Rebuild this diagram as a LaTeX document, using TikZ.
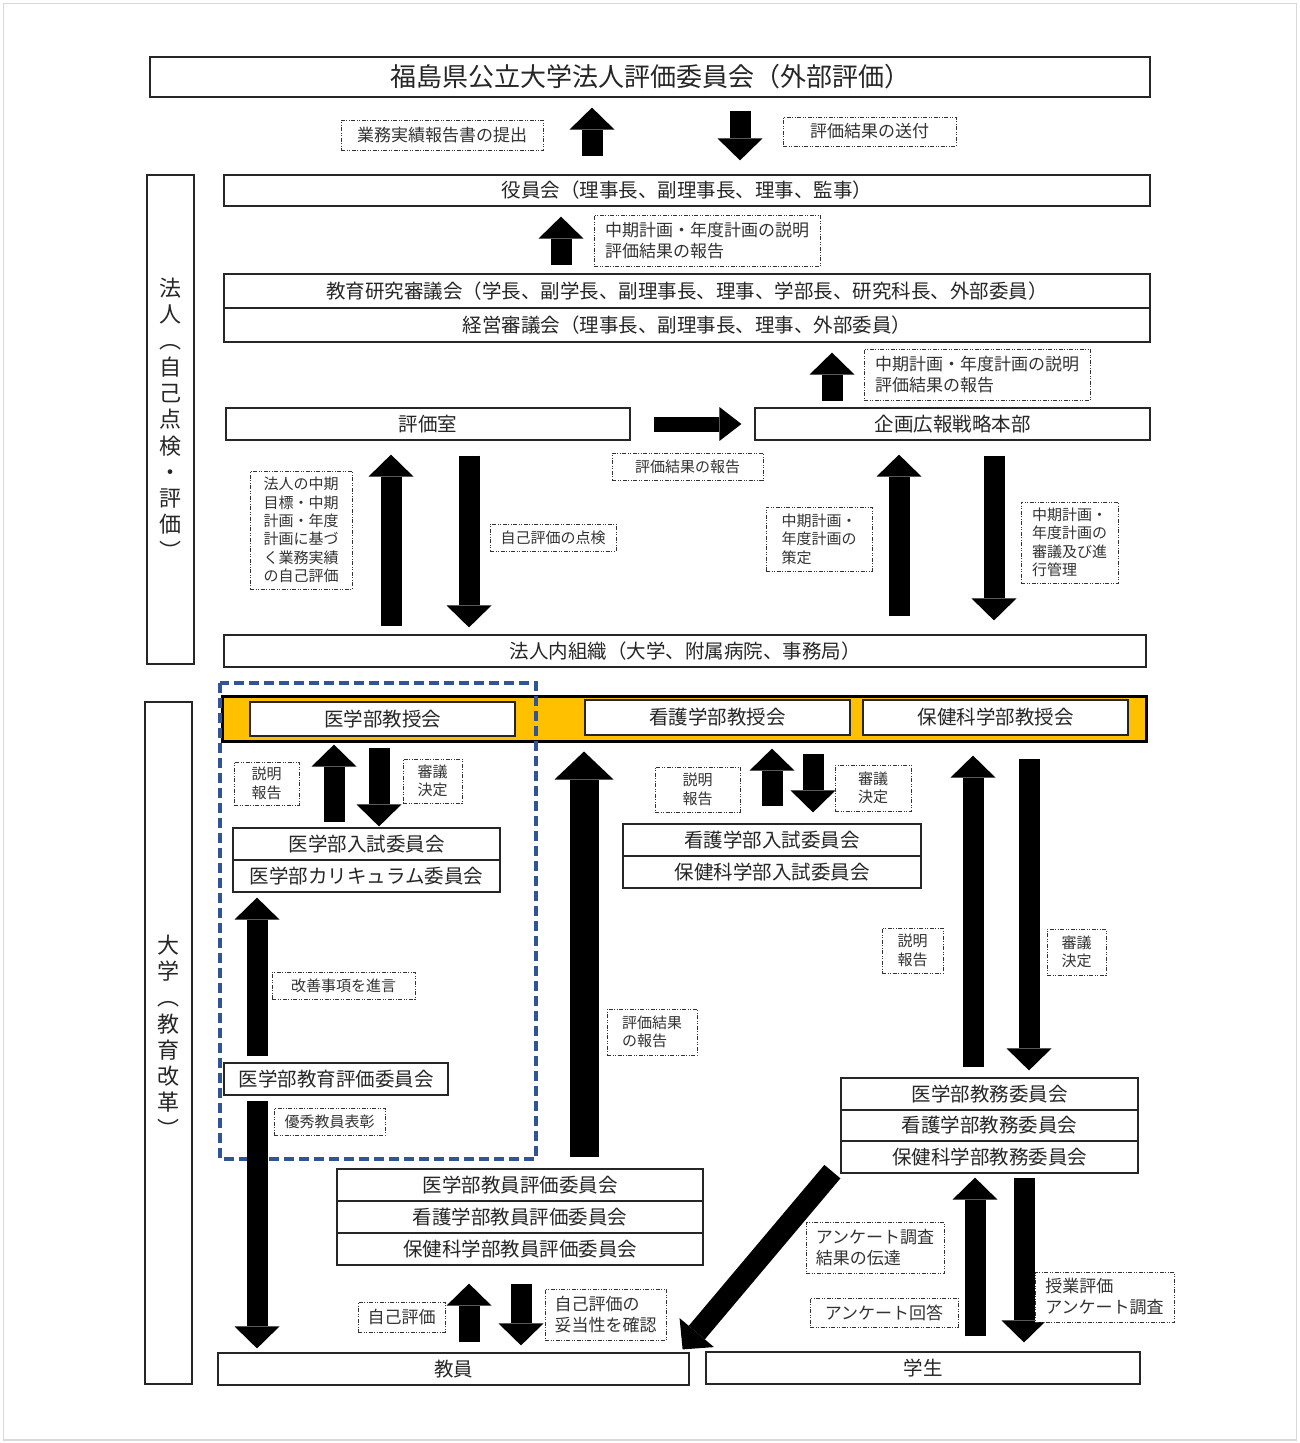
\documentclass[tikz,border=0pt]{standalone}
\usepackage{fontspec}
\setmainfont{Noto Sans CJK JP}
\usepackage{tikz}
\usepackage{xcolor}
\usetikzlibrary{arrows.meta}
\definecolor{bandyellow}{HTML}{FFC000}
\definecolor{waku}{HTML}{2F5597}
\tikzset{>=latex,
  box/.style={draw=black!85, line width=1.2pt, fill=white, inner sep=0pt, text=black!85, font=\fontsize{19.5}{22}\selectfont},
  tate/.style={inner sep=0pt, align=center, text=black!85, font=\fontsize{22}{26.3}\selectfont},
  lbl/.style={draw=black!80, line width=1pt, dash pattern=on 4pt off 1.5pt on 1pt off 1.5pt on 1pt off 1.5pt, fill=white, inner sep=0pt, align=left, text=black!80, font=\fontsize{15}{18.4}\selectfont},
  lblbig/.style={lbl, font=\fontsize{17}{21}\selectfont},
  blk/.style={line width=21pt, -{Triangle[width=45pt,length=22pt,line width=0pt]}},
  blkbig/.style={line width=29pt, -{Triangle[width=59pt,length=28pt,line width=0pt]}}}

\begin{document}
\begin{tikzpicture}[x=1pt,y=-1pt]
    \useasboundingbox (0,0) rectangle (1299,1443);
    \draw[black!15, line width=1.5pt] (3.5,3.5) rectangle (1296.5,1440);

    \node[box, minimum width=1000pt, minimum height=40pt, font=\fontsize{26}{28}\selectfont] (hyokaiin) at (650,77) {福島県公立大学法人評価委員会（外部評価）};
    \node[box, minimum width=926pt, minimum height=31pt] (yakuin) at (687,190.5) {役員会（理事長、副理事長、理事、監事）};
    \node[box, minimum width=926pt, minimum height=34pt] (kyoken) at (687,291) {教育研究審議会（学長、副学長、副理事長、理事、学部長、研究科長、外部委員）};
    \node[box, minimum width=926pt, minimum height=34pt] (keiei) at (687,325) {経営審議会（理事長、副理事長、理事、外部委員）};
    \node[box, minimum width=404pt, minimum height=32pt] (hyokashitsu) at (428,424) {評価室};
    \node[box, minimum width=395pt, minimum height=32pt] (kikaku) at (952.5,424) {企画広報戦略本部};
    \node[box, minimum width=922pt, minimum height=32pt] (naibu) at (685,651) {法人内組織（大学、附属病院、事務局）};

    \node[box, minimum width=47pt, minimum height=489pt] (hojinwaku) at (170.5,419.5) {};
    \node[tate] (hojin) at (170.5,418.5) {法\\人\\︵\\自\\己\\点\\検\\・\\評\\価\\︶};
    \node[box, minimum width=47pt, minimum height=682pt] (daigakuwaku) at (168.5,1043) {};
    \node[tate] (daigaku) at (168.5,1036) {大\\学\\︵\\教\\育\\改\\革\\︶};

    \node[draw=black, line width=3pt, fill=bandyellow, minimum width=924pt, minimum height=45pt] (band) at (684,718.5) {};
    \node[box, minimum width=265pt, minimum height=34pt] (ikyoju) at (382.5,719) {医学部教授会};
    \node[box, minimum width=265pt, minimum height=35pt] (kkyoju) at (717.5,717.5) {看護学部教授会};
    \node[box, minimum width=265pt, minimum height=35pt] (hkyoju) at (995.5,717.5) {保健科学部教授会};
    \draw[waku, line width=4pt, dash pattern=on 10pt off 5pt] (220,683) rectangle (536,1159);

    \node[box, minimum width=267pt, minimum height=32pt] (inyushi) at (366.5,844) {医学部入試委員会};
    \node[box, minimum width=267pt, minimum height=32pt] (icurri) at (366.5,876) {医学部カリキュラム委員会};
    \node[box, minimum width=298pt, minimum height=32pt] (knyushi) at (772,840) {看護学部入試委員会};
    \node[box, minimum width=298pt, minimum height=32pt] (hnyushi) at (772,872) {保健科学部入試委員会};
    \node[box, minimum width=224pt, minimum height=32pt] (ihyoka) at (336,1079) {医学部教育評価委員会};
    \node[box, minimum width=297pt, minimum height=32pt] (kyomua) at (989.5,1094) {医学部教務委員会};
    \node[box, minimum width=297pt, minimum height=31pt] (kyomub) at (989.5,1125.5) {看護学部教務委員会};
    \node[box, minimum width=297pt, minimum height=32pt] (kyomuc) at (989.5,1157) {保健科学部教務委員会};
    \node[box, minimum width=366pt, minimum height=32pt] (kyoinhyoa) at (520,1185) {医学部教員評価委員会};
    \node[box, minimum width=366pt, minimum height=32pt] (kyoinhyob) at (520,1217) {看護学部教員評価委員会};
    \node[box, minimum width=366pt, minimum height=32pt] (kyoinhyoc) at (520,1249) {保健科学部教員評価委員会};
    \node[box, minimum width=471pt, minimum height=32pt] (kyoin) at (453.5,1369) {教員};
    \node[box, minimum width=434pt, minimum height=32pt] (gakusei) at (923,1368) {学生};

    \draw[blk, shorten <=18pt, shorten >=10pt] (yakuin.north -| 592,0) -- (hyokaiin.south -| 592,0);
    \draw[blk, shorten <=13pt, shorten >=14pt] (hyokaiin.south -| 740,0) -- (yakuin.north -| 740,0);
    \draw[blk, shorten <=8pt, shorten >=10pt] (kyoken.north -| 561,0) -- (yakuin.south -| 561,0);
    \draw[blk, shorten <=6pt, shorten >=10pt] (kikaku.north -| 832,0) -- (keiei.south -| 832,0);
    \draw[line width=15pt, -{Triangle[width=34pt,length=22pt,line width=0pt]}, shorten <=23pt, shorten >=13pt] (hyokashitsu.east) -- (kikaku.west);
    \draw[blk, shorten <=8pt, shorten >=14pt] (naibu.north -| 391,0) -- (hyokashitsu.south -| 391,0);
    \draw[blk, shorten <=15pt, shorten >=7pt] (hyokashitsu.south -| 469,0) -- (naibu.north -| 469,0);
    \draw[blk, shorten <=18pt, shorten >=14pt] (naibu.north -| 899,0) -- (kikaku.south -| 899,0);
    \draw[blk, shorten <=15pt, shorten >=14pt] (kikaku.south -| 994,0) -- (naibu.north -| 994,0);

    \draw[blk, shorten <=5pt, shorten >=8pt] (inyushi.north -| 334,0) -- (ikyoju.south -| 334,0);
    \draw[blk, shorten <=11pt, shorten >=1pt] (ikyoju.south -| 379,0) -- (inyushi.north -| 379,0);
    \draw[blkbig, shorten <=11pt, shorten >=9pt] (kyoinhyoa.north -| 584,0) -- (band.south -| 584,0);
    \draw[blk, shorten <=17pt, shorten >=13pt] (knyushi.north -| 772,0) -- (kkyoju.south -| 772,0);
    \draw[blk, shorten <=18pt, shorten >=11pt] (kkyoju.south -| 813,0) -- (knyushi.north -| 813,0);
    \draw[blk, shorten <=10pt, shorten >=20pt] (kyomua.north -| 973,0) -- (hkyoju.south -| 973,0);
    \draw[blk, shorten <=23pt, shorten >=7pt] (hkyoju.south -| 1029,0) -- (kyomua.north -| 1029,0);
    \draw[blk, shorten <=6pt, shorten >=5pt] (ihyoka.north -| 257,0) -- (icurri.south -| 257,0);
    \draw[blk, shorten <=5pt, shorten >=4pt] (ihyoka.south -| 257,0) -- (kyoin.north -| 257,0);
    \draw[blk, shorten <=10pt, shorten >=18pt] (kyoin.north -| 469,0) -- (kyoinhyoc.south -| 469,0);
    \draw[blk, shorten <=18pt, shorten >=7pt] (kyoinhyoc.south -| 521,0) -- (kyoin.north -| 521,0);
    \draw[blk] ([shift={(-8,-2)}]kyomuc.south west) -- ([shift={(-7,-3)}]kyoin.north east);
    \draw[blk, shorten <=15pt, shorten >=4pt] (gakusei.north -| 975,0) -- (kyomuc.south -| 975,0);
    \draw[blk, shorten <=4pt, shorten >=9pt] (kyomuc.south -| 1024,0) -- (gakusei.north -| 1024,0);

    \node[lblbig, minimum width=202pt, minimum height=30pt] (teishutsu) at (442,135) {業務実績報告書の提出};
    \node[lblbig, minimum width=173pt, minimum height=29pt] (sofu) at (869.5,131.5) {評価結果の送付};
    \node[lblbig, minimum width=226pt, minimum height=51pt] (setsumeia) at (707,240.5) {中期計画・年度計画の説明\\評価結果の報告};
    \node[lblbig, minimum width=226pt, minimum height=51pt] (setsumeib) at (977,374.5) {中期計画・年度計画の説明\\評価結果の報告};
    \node[lbl, minimum width=151pt, minimum height=27pt] (hokokua) at (687.5,466.5) {評価結果の報告};
    \node[lbl, minimum width=102pt, minimum height=118pt] (jikohyoka) at (301,530) {法人の中期\\目標・中期\\計画・年度\\計画に基づ\\く業務実績\\の自己評価};
    \node[lbl, minimum width=126pt, minimum height=27pt] (tenken) at (553,537.5) {自己評価の点検};
    \node[lbl, minimum width=106pt, minimum height=64pt] (sakutei) at (819,539) {中期計画・\\年度計画の\\策定};
    \node[lbl, minimum width=97pt, minimum height=81pt] (shingi) at (1069.5,542.5) {中期計画・\\年度計画の\\審議及び進\\行管理};
    \node[lbl, minimum width=65pt, minimum height=43pt] (setsua) at (266.5,783.5) {説明\\報告};
    \node[lbl, minimum width=59pt, minimum height=44pt] (kettea) at (432.5,781) {審議\\決定};
    \node[lbl, minimum width=85pt, minimum height=45pt] (setsub) at (697.5,789.5) {説明\\報告};
    \node[lbl, minimum width=76pt, minimum height=46pt] (ketteb) at (873,788) {審議\\決定};
    \node[lbl, minimum width=61pt, minimum height=45pt] (setsuc) at (912.5,950.5) {説明\\報告};
    \node[lbl, minimum width=59pt, minimum height=46pt] (kettec) at (1076.5,952) {審議\\決定};
    \node[lbl, minimum width=143pt, minimum height=27pt] (shingen) at (343.5,985.5) {改善事項を進言};
    \node[lbl, minimum width=90pt, minimum height=46pt] (hokokub) at (652,1032) {評価結果\\の報告};
    \node[lbl, minimum width=111pt, minimum height=27pt] (hyosho) at (329.5,1121.5) {優秀教員表彰};
    \node[lblbig, minimum width=138pt, minimum height=51pt] (dentatsu) at (875,1247.5) {アンケート調査\\結果の伝達};
    \node[lblbig, minimum width=148pt, minimum height=29pt] (kaito) at (884,1312.5) {アンケート回答};
    \node[lblbig, minimum width=139pt, minimum height=50pt] (jugyo) at (1104.5,1297) {授業評価\\アンケート調査};
    \node[lblbig, minimum width=87pt, minimum height=30pt] (jiko) at (401.5,1317) {自己評価};
    \node[lblbig, minimum width=121pt, minimum height=51pt] (dato) at (605.5,1314.5) {自己評価の\\妥当性を確認};
\end{tikzpicture}
\end{document}
